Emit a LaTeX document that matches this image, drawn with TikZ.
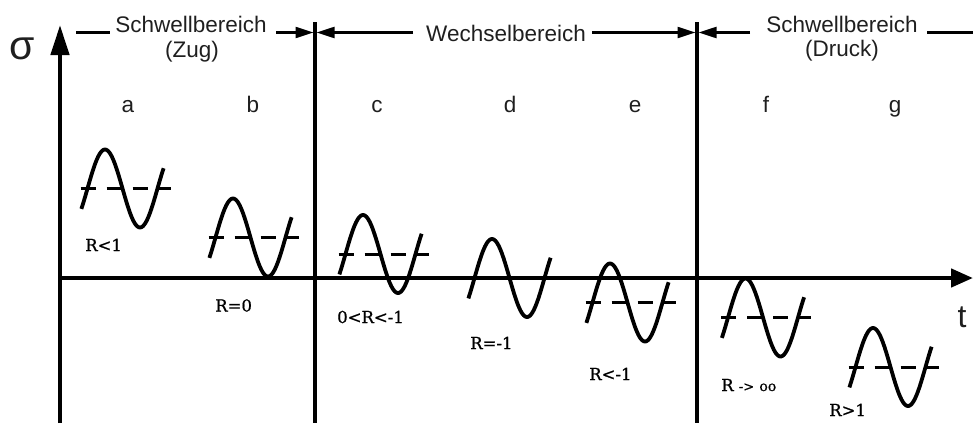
\documentclass[tikz,border=0pt]{standalone}
\usepackage{fontspec}
\setmainfont{DejaVu Serif}
\newfontfamily\rfont{DejaVu Serif}[FakeBold=0.8]
\newfontfamily\sansf{Liberation Sans}
\usetikzlibrary{arrows.meta}
\newcommand{\wavecurve}[2]{%
  \draw[wavestyle] plot[domain=-0.55:6.83, samples=80, smooth] ({#1 + \x*70/6.2832}, {#2 - 39*sin(\x r)});}
\newcommand{\meanline}[2]{%
  \draw[meanstyle] (#1-7,#2) -- (#1+83,#2);}
\begin{document}
\begin{tikzpicture}[x=1pt,y=-1pt,
  axisv/.style={line width=4.5pt, -{Triangle[length=30pt,width=18pt]}},
  axish/.style={line width=4.5pt, -{Triangle[length=22pt,width=18pt]}},
  sepline/.style={line width=3.5pt},
  hdr/.style={line width=2.2pt},
  hdrarrow/.style={line width=2.2pt, -{Triangle[length=18pt,width=11pt]}},
  wavestyle/.style={line width=3.8pt},
  meanstyle/.style={line width=3pt, dash pattern=on 15pt off 11pt},
  sanslbl/.style={font=\sansf\fontsize{22.5}{24}\selectfont, text=black!88, inner sep=0pt, anchor=base},
  rlbl/.style={font=\rfont\fontsize{16.5}{18}\selectfont, inner sep=0pt, anchor=base west}]
\useasboundingbox (0,0) rectangle (973,423);
% axes
\coordinate (ytop) at (60,25);
\coordinate (ybot) at (60,423);
\coordinate (xstart) at (58,278);
\coordinate (xend) at (973,278);
\draw[axisv] (ybot) -- (ytop);
\draw[axish] (xstart) -- (xend);
\node[font=\sansf\fontsize{41}{42}\selectfont, text=black!88, inner sep=0pt] (sigma) at (22.5,49) {σ};
\node[font=\sansf\fontsize{32}{34}\selectfont, text=black!88, inner sep=0pt] (tlabel) at (962,317.5) {t};
% separators
\coordinate (s1top) at (315,22);
\coordinate (s1bot) at (315,423);
\coordinate (s2top) at (697,22);
\coordinate (s2bot) at (697,423);
\draw[sepline] (s1top) -- (s1bot);
\draw[sepline] (s2top) -- (s2bot);
% headers
\node[sanslbl] (h1) at (191,32) {Schwellbereich};
\node[sanslbl] (h1b) at (192,57) {(Zug)};
\node[sanslbl] (h2) at (506,41.5) {Wechselbereich};
\node[sanslbl] (h3) at (842,32) {Schwellbereich};
\node[sanslbl] (h3b) at (842,56) {(Druck)};
\coordinate (a1) at (76,32.5);
\coordinate (a2) at (110,32.5);
\coordinate (a3) at (276,32.5);
\coordinate (a4) at (313.5,32.5);
\coordinate (b1) at (316.5,32.5);
\coordinate (b2) at (413,32.5);
\coordinate (b3) at (592,32.5);
\coordinate (b4) at (695.5,32.5);
\coordinate (c1) at (698.5,32.5);
\coordinate (c2) at (750,32.5);
\coordinate (c3) at (927,32.5);
\coordinate (c4) at (973,32.5);
\draw[hdr] (a1) -- (a2);
\draw[hdrarrow] (a3) -- (a4);
\draw[hdrarrow] (b2) -- (b1);
\draw[hdrarrow] (b3) -- (b4);
\draw[hdrarrow] (c2) -- (c1);
\draw[hdr] (c3) -- (c4);
% letters
\node[sanslbl] (la) at (128,112) {a};
\node[sanslbl] (lb) at (253,112) {b};
\node[sanslbl] (lc) at (377,112) {c};
\node[sanslbl] (ld) at (510,112) {d};
\node[sanslbl] (le) at (635,112) {e};
\node[sanslbl] (lf) at (766,112) {f};
\node[sanslbl] (lg) at (895,112) {g};
% waves
\wavecurve{87.5}{188.5}\meanline{87.5}{188.5}
\wavecurve{215.5}{237.5}\meanline{215.5}{237.5}
\wavecurve{345.5}{254}\meanline{345.5}{254}
\wavecurve{474.5}{278}
\wavecurve{592.5}{302.5}\meanline{592.5}{302.5}
\wavecurve{728}{317.5}\meanline{728}{317.5}
\wavecurve{855.5}{367}\meanline{855.5}{367}
% R labels
\node[rlbl] (ra) at (85,251) {R<1};
\node[rlbl] (rb) at (215,311.5) {R=0};
\node[rlbl] (rc) at (337,323) {0<R<-1};
\node[rlbl] (rd) at (470,349) {R=-1};
\node[rlbl] (re) at (589,380) {R<-1};
\node[rlbl] (rf) at (721,391) {R {\fontsize{13}{14}\selectfont -{}>} {\fontsize{14}{16}\selectfont oo}};
\node[rlbl] (rg) at (829,416) {R>1};
\end{tikzpicture}
\end{document}
